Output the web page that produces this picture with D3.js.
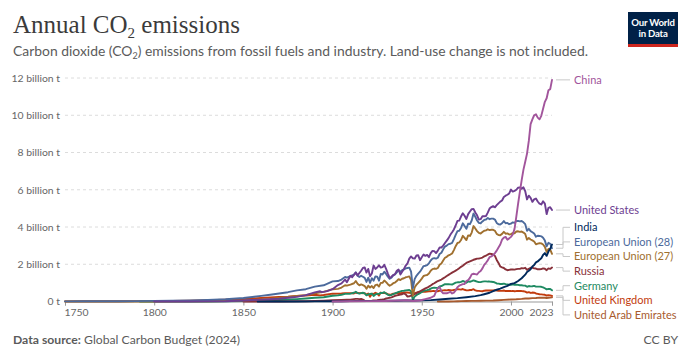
<!DOCTYPE html>
<html><head><meta charset="utf-8">
<script src="https://cdn.jsdelivr.net/npm/d3@7"></script>
<style>
body{margin:0;background:#fff;}
svg{display:block;font-family:Lato,"Noto Sans",sans-serif;}
</style></head>
<body>
<svg id="chart" width="690" height="360"></svg>
<script>
// ---------- DATA (billion tonnes CO2) ----------
const xTicks = [1750, 1800, 1850, 1900, 1950, 2000, 2023];
const yTicks = [0, 2, 4, 6, 8, 10, 12];
const yTickLabels = ["0 t", "2 billion t", "4 billion t", "6 billion t", "8 billion t", "10 billion t", "12 billion t"];

const categories = ["United Arab Emirates", "United Kingdom", "Germany", "Russia", "European Union (27)", "European Union (28)", "India", "United States", "China"];
const colors = ["#A85A2E", "#C23B0E", "#1F8A62", "#883039", "#A0702F", "#4C6A9C", "#00295B", "#6D3E91", "#A2559C"];

const china = [[1900,0.0001],[1910,0.01],[1920,0.02],[1930,0.03],[1937,0.05],[1942,0.07],[1945,0.03],[1949,0.05],[1950,0.08],[1952,0.13],[1955,0.2],[1957,0.3],[1958,0.53],[1959,0.71],[1960,0.78],[1961,0.55],[1962,0.44],[1963,0.44],[1964,0.44],[1965,0.48],[1966,0.52],[1967,0.43],[1968,0.48],[1969,0.6],[1970,0.77],[1971,0.85],[1972,0.89],[1973,0.93],[1974,0.94],[1975,1.1],[1976,1.15],[1977,1.27],[1978,1.46],[1979,1.49],[1980,1.47],[1981,1.45],[1982,1.57],[1983,1.64],[1984,1.78],[1985,1.97],[1986,2.08],[1987,2.21],[1988,2.38],[1989,2.42],[1990,2.48],[1991,2.6],[1992,2.73],[1993,2.9],[1994,3.06],[1995,3.32],[1996,3.43],[1997,3.47],[1998,3.32],[1999,3.39],[2000,3.47],[2001,3.6],[2002,3.9],[2003,4.56],[2004,5.26],[2005,5.9],[2006,6.52],[2007,7.08],[2008,7.5],[2009,7.94],[2010,8.62],[2011,9.52],[2012,9.78],[2013,10.0],[2014,10.05],[2015,9.87],[2016,9.78],[2017,9.97],[2018,10.35],[2019,10.72],[2020,10.91],[2021,11.34],[2022,11.4],[2023,11.9]];

const unitedStates = [[1800,0.0006],[1810,0.0012],[1820,0.0025],[1830,0.006],[1840,0.017],[1850,0.054],[1855,0.08],[1860,0.1],[1865,0.12],[1870,0.15],[1875,0.2],[1880,0.25],[1885,0.34],[1890,0.49],[1893,0.55],[1894,0.5],[1897,0.56],[1900,0.66],[1903,0.88],[1905,0.97],[1907,1.18],[1908,1.03],[1910,1.38],[1911,1.3],[1913,1.55],[1914,1.4],[1916,1.65],[1917,1.8],[1918,1.83],[1919,1.55],[1920,1.75],[1921,1.35],[1922,1.5],[1923,1.93],[1924,1.75],[1925,1.83],[1926,1.94],[1927,1.82],[1928,1.85],[1929,1.97],[1930,1.75],[1931,1.5],[1932,1.27],[1933,1.33],[1934,1.42],[1935,1.47],[1936,1.65],[1937,1.72],[1938,1.45],[1939,1.6],[1940,1.75],[1941,1.93],[1942,2.05],[1943,2.3],[1944,2.42],[1945,2.32],[1946,2.3],[1947,2.47],[1948,2.48],[1949,2.22],[1950,2.38],[1951,2.52],[1952,2.45],[1953,2.5],[1954,2.38],[1955,2.6],[1956,2.72],[1957,2.7],[1958,2.6],[1959,2.73],[1960,2.9],[1961,2.9],[1962,3.0],[1963,3.14],[1964,3.27],[1965,3.4],[1966,3.58],[1967,3.72],[1968,3.87],[1969,4.08],[1970,4.33],[1971,4.34],[1972,4.56],[1973,4.74],[1974,4.6],[1975,4.43],[1976,4.69],[1977,4.83],[1978,4.96],[1979,4.97],[1980,4.78],[1981,4.63],[1982,4.4],[1983,4.42],[1984,4.58],[1985,4.58],[1986,4.59],[1987,4.77],[1988,4.99],[1989,5.07],[1990,5.12],[1991,5.06],[1992,5.17],[1993,5.27],[1994,5.36],[1995,5.42],[1996,5.61],[1997,5.68],[1998,5.73],[1999,5.8],[2000,6.01],[2001,5.9],[2002,5.94],[2003,6.0],[2004,6.11],[2005,6.13],[2006,6.05],[2007,6.13],[2008,5.92],[2009,5.48],[2010,5.68],[2011,5.56],[2012,5.35],[2013,5.48],[2014,5.53],[2015,5.37],[2016,5.25],[2017,5.21],[2018,5.38],[2019,5.26],[2020,4.69],[2021,5.03],[2022,5.06],[2023,4.91]];

const india = [[1858,0.0002],[1870,0.001],[1880,0.003],[1890,0.006],[1900,0.012],[1905,0.016],[1910,0.022],[1913,0.028],[1920,0.032],[1925,0.036],[1930,0.04],[1935,0.042],[1940,0.05],[1945,0.055],[1950,0.06],[1955,0.075],[1960,0.11],[1965,0.15],[1970,0.18],[1975,0.23],[1980,0.29],[1983,0.34],[1985,0.39],[1988,0.47],[1990,0.56],[1992,0.63],[1994,0.69],[1996,0.77],[1998,0.84],[2000,0.95],[2002,0.99],[2004,1.1],[2006,1.25],[2008,1.44],[2009,1.58],[2010,1.65],[2011,1.73],[2012,1.88],[2013,1.96],[2014,2.1],[2015,2.15],[2016,2.24],[2017,2.32],[2018,2.5],[2019,2.6],[2020,2.45],[2021,2.68],[2022,2.83],[2023,3.06]];

const eu28 = [[1750,0.0094],[1760,0.011],[1770,0.013],[1780,0.017],[1790,0.022],[1800,0.031],[1810,0.04],[1820,0.055],[1830,0.08],[1840,0.12],[1850,0.19],[1855,0.24],[1860,0.3],[1865,0.36],[1870,0.43],[1875,0.5],[1880,0.6],[1885,0.66],[1890,0.8],[1895,0.87],[1900,1.08],[1903,1.1],[1905,1.18],[1907,1.32],[1908,1.28],[1910,1.36],[1912,1.44],[1913,1.57],[1914,1.38],[1915,1.32],[1916,1.38],[1917,1.33],[1918,1.27],[1919,1.05],[1920,1.28],[1921,1.0],[1922,1.25],[1923,1.12],[1924,1.35],[1925,1.33],[1926,1.12],[1927,1.48],[1928,1.45],[1929,1.6],[1930,1.48],[1931,1.33],[1932,1.22],[1933,1.28],[1934,1.4],[1935,1.45],[1936,1.56],[1937,1.67],[1938,1.6],[1939,1.68],[1940,1.72],[1941,1.78],[1942,1.8],[1943,1.82],[1944,1.6],[1945,0.72],[1946,1.2],[1947,1.38],[1948,1.5],[1949,1.6],[1950,1.75],[1951,1.9],[1952,1.92],[1953,1.95],[1954,2.05],[1955,2.2],[1956,2.3],[1957,2.33],[1958,2.3],[1959,2.35],[1960,2.55],[1961,2.62],[1962,2.8],[1963,2.95],[1964,3.0],[1965,3.08],[1966,3.1],[1967,3.15],[1968,3.35],[1969,3.58],[1970,3.78],[1971,3.8],[1972,3.95],[1973,4.2],[1974,4.05],[1975,3.9],[1976,4.18],[1977,4.15],[1978,4.35],[1979,4.72],[1980,4.55],[1981,4.35],[1982,4.22],[1983,4.2],[1984,4.3],[1985,4.38],[1986,4.4],[1987,4.48],[1988,4.42],[1989,4.45],[1990,4.45],[1991,4.4],[1992,4.22],[1993,4.15],[1994,4.13],[1995,4.2],[1996,4.32],[1997,4.2],[1998,4.22],[1999,4.15],[2000,4.18],[2001,4.25],[2002,4.22],[2003,4.32],[2004,4.33],[2005,4.3],[2006,4.32],[2007,4.25],[2008,4.15],[2009,3.8],[2010,3.9],[2011,3.78],[2012,3.72],[2013,3.65],[2014,3.48],[2015,3.53],[2016,3.52],[2017,3.5],[2018,3.42],[2019,3.27],[2020,2.96],[2021,3.15],[2022,3.1],[2023,2.86]];

const eu27 = [[1750,0.0003],[1780,0.001],[1800,0.003],[1820,0.008],[1830,0.015],[1840,0.03],[1850,0.06],[1855,0.08],[1860,0.11],[1865,0.14],[1870,0.19],[1875,0.24],[1880,0.3],[1885,0.34],[1890,0.44],[1895,0.52],[1900,0.66],[1903,0.68],[1905,0.75],[1907,0.87],[1908,0.85],[1910,0.91],[1912,0.98],[1913,1.1],[1914,0.95],[1915,0.87],[1916,0.92],[1917,0.88],[1918,0.83],[1919,0.68],[1920,0.85],[1921,0.75],[1922,0.83],[1923,0.72],[1924,0.88],[1925,0.91],[1926,0.8],[1927,1.0],[1928,1.0],[1929,1.13],[1930,1.04],[1931,0.93],[1932,0.85],[1933,0.9],[1934,0.98],[1935,1.02],[1936,1.1],[1937,1.2],[1938,1.15],[1939,1.22],[1940,1.25],[1941,1.3],[1942,1.32],[1943,1.35],[1944,1.15],[1945,0.3],[1946,0.75],[1947,0.9],[1948,1.0],[1949,1.1],[1950,1.23],[1951,1.37],[1952,1.4],[1953,1.42],[1954,1.5],[1955,1.65],[1956,1.74],[1957,1.77],[1958,1.75],[1959,1.8],[1960,1.97],[1961,2.04],[1962,2.2],[1963,2.35],[1964,2.4],[1965,2.48],[1966,2.52],[1967,2.58],[1968,2.76],[1969,2.97],[1970,3.14],[1971,3.17],[1972,3.3],[1973,3.53],[1974,3.42],[1975,3.3],[1976,3.55],[1977,3.52],[1978,3.7],[1979,4.05],[1980,3.92],[1981,3.78],[1982,3.68],[1983,3.65],[1984,3.73],[1985,3.8],[1986,3.82],[1987,3.88],[1988,3.83],[1989,3.85],[1990,3.85],[1991,3.8],[1992,3.63],[1993,3.57],[1994,3.56],[1995,3.63],[1996,3.74],[1997,3.64],[1998,3.66],[1999,3.6],[2000,3.62],[2001,3.68],[2002,3.66],[2003,3.76],[2004,3.77],[2005,3.74],[2006,3.76],[2007,3.7],[2008,3.62],[2009,3.32],[2010,3.41],[2011,3.33],[2012,3.28],[2013,3.22],[2014,3.07],[2015,3.11],[2016,3.13],[2017,3.12],[2018,3.06],[2019,2.93],[2020,2.66],[2021,2.82],[2022,2.78],[2023,2.56]];

const russia = [[1850,0.001],[1860,0.002],[1870,0.004],[1880,0.01],[1885,0.015],[1890,0.025],[1895,0.04],[1900,0.065],[1905,0.08],[1908,0.09],[1910,0.1],[1913,0.14],[1914,0.14],[1915,0.13],[1916,0.14],[1917,0.1],[1918,0.05],[1919,0.03],[1920,0.03],[1921,0.035],[1922,0.04],[1923,0.05],[1924,0.06],[1925,0.07],[1926,0.09],[1927,0.1],[1928,0.11],[1929,0.13],[1930,0.16],[1931,0.18],[1932,0.2],[1933,0.22],[1934,0.26],[1935,0.3],[1936,0.33],[1937,0.35],[1938,0.37],[1939,0.39],[1940,0.43],[1941,0.38],[1942,0.26],[1943,0.28],[1944,0.32],[1945,0.35],[1946,0.4],[1947,0.45],[1948,0.5],[1949,0.55],[1950,0.6],[1951,0.65],[1952,0.7],[1953,0.74],[1954,0.8],[1955,0.86],[1956,0.93],[1957,0.98],[1958,1.04],[1959,1.1],[1960,1.14],[1961,1.18],[1962,1.24],[1963,1.3],[1964,1.37],[1965,1.43],[1966,1.49],[1967,1.55],[1968,1.6],[1969,1.66],[1970,1.72],[1971,1.79],[1972,1.86],[1973,1.92],[1974,2.0],[1975,2.07],[1976,2.12],[1977,2.16],[1978,2.2],[1979,2.24],[1980,2.27],[1981,2.3],[1982,2.31],[1983,2.33],[1984,2.36],[1985,2.42],[1986,2.46],[1987,2.52],[1988,2.57],[1989,2.55],[1990,2.53],[1991,2.45],[1992,2.23],[1993,2.07],[1994,1.88],[1995,1.83],[1996,1.8],[1997,1.72],[1998,1.68],[1999,1.7],[2000,1.72],[2001,1.72],[2002,1.71],[2003,1.74],[2004,1.75],[2005,1.75],[2006,1.79],[2007,1.78],[2008,1.81],[2009,1.7],[2010,1.76],[2011,1.81],[2012,1.82],[2013,1.78],[2014,1.77],[2015,1.73],[2016,1.73],[2017,1.74],[2018,1.78],[2019,1.76],[2020,1.68],[2021,1.78],[2022,1.75],[2023,1.82]];

const germany = [[1792,0.0002],[1800,0.0003],[1820,0.001],[1830,0.002],[1840,0.006],[1850,0.02],[1855,0.03],[1860,0.04],[1865,0.06],[1870,0.08],[1875,0.11],[1880,0.13],[1885,0.16],[1890,0.2],[1895,0.23],[1900,0.31],[1903,0.33],[1905,0.36],[1907,0.41],[1908,0.41],[1910,0.42],[1912,0.47],[1913,0.52],[1914,0.45],[1915,0.42],[1916,0.45],[1917,0.47],[1918,0.44],[1919,0.33],[1920,0.38],[1921,0.4],[1922,0.42],[1923,0.3],[1924,0.38],[1925,0.41],[1926,0.41],[1927,0.46],[1928,0.46],[1929,0.5],[1930,0.43],[1931,0.36],[1932,0.33],[1933,0.35],[1934,0.39],[1935,0.43],[1936,0.47],[1937,0.52],[1938,0.54],[1939,0.57],[1940,0.58],[1941,0.6],[1942,0.61],[1943,0.62],[1944,0.55],[1945,0.08],[1946,0.27],[1947,0.34],[1948,0.4],[1949,0.45],[1950,0.51],[1951,0.57],[1952,0.6],[1953,0.61],[1954,0.64],[1955,0.69],[1956,0.73],[1957,0.74],[1958,0.73],[1959,0.73],[1960,0.81],[1961,0.83],[1962,0.88],[1963,0.93],[1964,0.93],[1965,0.93],[1966,0.92],[1967,0.91],[1968,0.96],[1969,1.01],[1970,1.03],[1971,1.03],[1972,1.05],[1973,1.1],[1974,1.07],[1975,1.01],[1976,1.08],[1977,1.06],[1978,1.09],[1979,1.13],[1980,1.1],[1981,1.07],[1982,1.04],[1983,1.04],[1984,1.07],[1985,1.08],[1986,1.08],[1987,1.07],[1988,1.07],[1989,1.06],[1990,1.05],[1991,1.02],[1992,0.97],[1993,0.96],[1994,0.94],[1995,0.94],[1996,0.96],[1997,0.93],[1998,0.92],[1999,0.9],[2000,0.9],[2001,0.92],[2002,0.9],[2003,0.9],[2004,0.89],[2005,0.87],[2006,0.87],[2007,0.85],[2008,0.85],[2009,0.79],[2010,0.83],[2011,0.81],[2012,0.82],[2013,0.84],[2014,0.8],[2015,0.8],[2016,0.8],[2017,0.79],[2018,0.76],[2019,0.71],[2020,0.65],[2021,0.68],[2022,0.67],[2023,0.6]];

const unitedKingdom = [[1750,0.0093],[1760,0.0105],[1770,0.012],[1780,0.016],[1790,0.021],[1800,0.028],[1810,0.036],[1820,0.047],[1830,0.065],[1840,0.09],[1850,0.13],[1855,0.16],[1860,0.19],[1865,0.22],[1870,0.24],[1875,0.26],[1880,0.3],[1885,0.32],[1890,0.36],[1893,0.33],[1895,0.35],[1900,0.42],[1905,0.43],[1907,0.45],[1910,0.45],[1912,0.43],[1913,0.47],[1915,0.45],[1918,0.44],[1919,0.37],[1920,0.43],[1921,0.25],[1922,0.42],[1923,0.4],[1924,0.47],[1925,0.42],[1926,0.32],[1927,0.48],[1928,0.45],[1929,0.47],[1930,0.44],[1931,0.4],[1932,0.37],[1933,0.38],[1934,0.42],[1935,0.43],[1936,0.46],[1937,0.47],[1938,0.45],[1939,0.46],[1940,0.47],[1941,0.48],[1942,0.48],[1943,0.47],[1944,0.45],[1945,0.42],[1946,0.45],[1947,0.48],[1948,0.5],[1949,0.5],[1950,0.52],[1951,0.53],[1952,0.52],[1953,0.53],[1954,0.55],[1955,0.55],[1956,0.56],[1957,0.56],[1958,0.55],[1959,0.55],[1960,0.58],[1961,0.58],[1962,0.6],[1963,0.61],[1964,0.6],[1965,0.62],[1966,0.61],[1967,0.6],[1968,0.62],[1969,0.64],[1970,0.66],[1971,0.65],[1972,0.64],[1973,0.67],[1974,0.63],[1975,0.6],[1976,0.6],[1977,0.62],[1978,0.62],[1979,0.66],[1980,0.6],[1981,0.58],[1982,0.57],[1983,0.56],[1984,0.55],[1985,0.58],[1986,0.59],[1987,0.59],[1988,0.59],[1989,0.6],[1990,0.6],[1991,0.61],[1992,0.59],[1993,0.58],[1994,0.57],[1995,0.57],[1996,0.59],[1997,0.56],[1998,0.56],[1999,0.56],[2000,0.56],[2001,0.57],[2002,0.55],[2003,0.56],[2004,0.56],[2005,0.56],[2006,0.56],[2007,0.55],[2008,0.53],[2009,0.48],[2010,0.5],[2011,0.46],[2012,0.48],[2013,0.47],[2014,0.43],[2015,0.41],[2016,0.39],[2017,0.38],[2018,0.37],[2019,0.36],[2020,0.32],[2021,0.34],[2022,0.33],[2023,0.3]];

const uae = [[1959,0.00001],[1962,0.0005],[1965,0.002],[1968,0.006],[1970,0.012],[1972,0.02],[1975,0.03],[1978,0.035],[1980,0.035],[1983,0.04],[1986,0.045],[1990,0.055],[1993,0.07],[1996,0.085],[2000,0.11],[2003,0.12],[2006,0.14],[2008,0.16],[2010,0.16],[2012,0.18],[2014,0.19],[2016,0.21],[2018,0.2],[2019,0.2],[2020,0.19],[2021,0.2],[2022,0.21],[2023,0.22]];

const seriesValues = [uae, unitedKingdom, germany, russia, eu27, eu28, india, unitedStates, china];

// ---------- CHART ----------
const svg = d3.select("#chart");
const plot = {left: 65, right: 552, top: 78, bottom: 301.5};

const x = d3.scaleLinear().domain([1750, 2023]).range([plot.left, plot.right]);
const y = d3.scaleLinear().domain([0, 12]).range([plot.bottom, plot.top]);

// Title
const title = svg.append("text").attr("x", 13).attr("y", 33)
  .attr("font-family", "'Liberation Serif', 'DejaVu Serif', serif")
  .attr("font-size", 25).attr("fill", "#3b3b3b");
title.append("tspan").text("Annual CO");
title.append("tspan").attr("font-size", 15).attr("dy", 5).text("2");
title.append("tspan").attr("dy", -5).text(" emissions");

const sub = svg.append("text").attr("x", 13).attr("y", 56)
  .attr("font-size", 13.9).attr("fill", "#5b5b5b");
sub.append("tspan").text("Carbon dioxide (CO");
sub.append("tspan").attr("font-size", 9).attr("dy", 3).text("2");
sub.append("tspan").attr("dy", -3).text(") emissions from fossil fuels and industry. Land-use change is not included.");

// Logo
const logo = svg.append("g");
logo.append("rect").attr("x", 628).attr("y", 12).attr("width", 50).attr("height", 35).attr("fill", "#002147");
logo.append("rect").attr("x", 628).attr("y", 44).attr("width", 50).attr("height", 3).attr("fill", "#ce261e");
logo.append("text").attr("x", 653).attr("y", 25.5).attr("text-anchor", "middle").attr("fill", "#fff")
  .attr("font-size", 9.6).attr("font-weight", 700).attr("letter-spacing", -0.2).text("Our World");
logo.append("text").attr("x", 653).attr("y", 37).attr("text-anchor", "middle").attr("fill", "#fff")
  .attr("font-size", 9.6).attr("font-weight", 700).attr("letter-spacing", -0.2).text("in Data");

// Y grid + labels
const yAxis = d3.axisLeft(y).tickValues(yTicks).tickSize(0).tickPadding(4)
  .tickFormat((d, i) => yTickLabels[i]);
const gy = svg.append("g").attr("transform", `translate(${plot.left - 1},0)`).call(yAxis);
gy.select(".domain").remove();
gy.selectAll("text").attr("font-size", 10.4).attr("fill", "#666").attr("font-family", "Lato, sans-serif");

svg.append("g").selectAll("line").data(yTicks.filter(d => d > 0)).join("line")
  .attr("x1", plot.left).attr("x2", plot.right)
  .attr("y1", d => y(d)).attr("y2", d => y(d))
  .attr("stroke", "#dcdcdc").attr("stroke-dasharray", "3,3");

// X axis
const xAxis = d3.axisBottom(x).tickValues(xTicks).tickSize(4).tickPadding(3).tickFormat(d3.format("d"));
const gx = svg.append("g").attr("transform", `translate(0,${plot.bottom})`).call(xAxis);
gx.select(".domain").attr("stroke", "#999");
gx.selectAll(".tick line").attr("stroke", "#999");
gx.selectAll("text").attr("font-size", 10.4).attr("fill", "#666").attr("font-family", "Lato, sans-serif")
  .attr("text-anchor", d => d === xTicks[0] ? "start" : (d === xTicks[xTicks.length - 1] ? "end" : "middle"))
  .attr("dx", d => d === xTicks[0] ? -1 : (d === xTicks[xTicks.length - 1] ? 1 : 0));

// Lines
const line = d3.line().x(d => x(d[0])).y(d => y(d[1])).curve(d3.curveLinear);
const lines = svg.append("g");
seriesValues.forEach((vals, i) => {
  lines.append("path").datum(vals).attr("d", line)
    .attr("fill", "none").attr("stroke", colors[i]).attr("stroke-width", 1.9)
    .attr("stroke-linejoin", "round").attr("stroke-linecap", "round");
});

// End labels with collision avoidance
const gap = 14.6;
const items = categories.map((c, i) => {
  const last = seriesValues[i][seriesValues[i].length - 1];
  return {name: c, color: colors[i], dataY: y(last[1]), target: y(last[1])};
}).sort((a, b) => a.target - b.target);
let groups = items.map(d => ({members: [d]}));
function place(g) {
  const mean = d3.mean(g.members, m => m.target);
  const top = mean - (g.members.length - 1) * gap / 2;
  g.members.forEach((m, k) => m.y = top + k * gap);
}
groups.forEach(place);
let changed = true;
while (changed) {
  changed = false;
  for (let i = 0; i < groups.length - 1; i++) {
    const a = groups[i], b = groups[i + 1];
    if (b.members[0].y - a.members[a.members.length - 1].y < gap - 0.01) {
      a.members = a.members.concat(b.members);
      groups.splice(i + 1, 1);
      place(a);
      changed = true;
      break;
    }
  }
}
const labelX = 574, xStart = plot.right + 4, xMid = 563;
const lg = svg.append("g");
items.forEach(d => {
  const straight = Math.abs(d.y - d.dataY) < 1.5;
  const p = straight
    ? `M${xStart},${d.y}H${labelX - 4}`
    : `M${xStart},${d.dataY}H${xMid}V${d.y}H${labelX - 4}`;
  lg.append("path").attr("d", p).attr("fill", "none").attr("stroke", "#c8c8c8").attr("stroke-width", 1);
  lg.append("text").attr("x", labelX).attr("y", d.y).attr("dy", "0.35em")
    .attr("font-size", 11).attr("fill", d.color).text(d.name);
});

// Footer
const foot = svg.append("text").attr("x", 13).attr("y", 344).attr("font-size", 12.2).attr("fill", "#5b5b5b");
foot.append("tspan").attr("font-weight", 700).text("Data source:");
foot.append("tspan").text(" Global Carbon Budget (2024)");
svg.append("text").attr("x", 678).attr("y", 344).attr("text-anchor", "end")
  .attr("font-size", 12.2).attr("fill", "#5b5b5b").text("CC BY");
</script>
</body></html>
